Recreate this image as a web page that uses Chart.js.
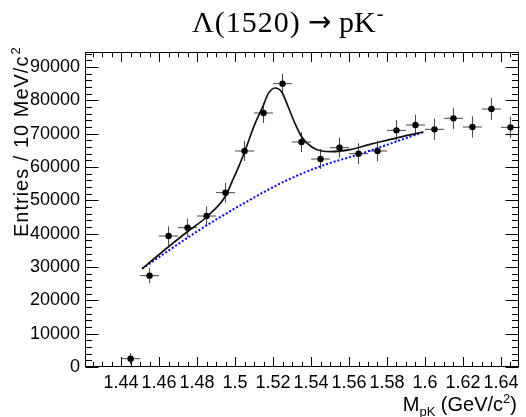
<!DOCTYPE html>
<html><head><meta charset="utf-8">
<script src="https://cdn.jsdelivr.net/npm/chart.js@4.4.1/dist/chart.umd.min.js"></script>
<style>html,body{margin:0;padding:0;background:#fff;}canvas{display:block;}</style>
</head><body>
<canvas id="c" width="526" height="417"></canvas>
<script>
// ---- data ----
const massBins = [1.445, 1.455, 1.465, 1.475, 1.485, 1.495, 1.505, 1.515, 1.525, 1.535, 1.545,
                  1.555, 1.565, 1.575, 1.585, 1.595, 1.605, 1.615, 1.625, 1.635, 1.645];
const entries = [2500, 27400, 39300, 41800, 45300, 52300, 64800, 76200, 85000, 67500, 62400,
                 65800, 64000, 64800, 71000, 72600, 71300, 74600, 72000, 77400, 71900];
const entryErrors = [1700, 2300, 2900, 2700, 2900, 3000, 3000, 3000, 3000, 3000, 3000,
                     3000, 3100, 3100, 3100, 3100, 3200, 3200, 3200, 3300, 3200];
const binHalfWidth = 0.005;

const fitMass = [1.4511, 1.4648, 1.4754, 1.4850, 1.4950, 1.4991, 1.5026, 1.5052, 1.5105, 1.5149,
                 1.5175, 1.5210, 1.5246, 1.5280, 1.5316, 1.5351, 1.5404, 1.5456, 1.5509, 1.5605,
                 1.5711, 1.5799, 1.5886, 1.5992];
const fitValues = [29500, 36000, 40800, 45000, 51300, 56500, 61000, 64800, 73000, 78500,
                   82000, 83700, 82500, 78000, 73000, 69000, 66000, 64800, 64600, 65200,
                   66800, 68000, 69200, 70500];

const bkgMass = [1.4511, 1.4815, 1.5043, 1.5272, 1.5474, 1.5653, 1.5992];
const bkgValues = [29500, 41200, 49000, 56000, 60700, 63800, 70500];

const xTickValues = [1.44, 1.46, 1.48, 1.50, 1.52, 1.54, 1.56, 1.58, 1.60, 1.62, 1.64];
const yTickValues = [0, 10000, 20000, 30000, 40000, 50000, 60000, 70000, 80000, 90000];

const SANS = '"Liberation Sans", Arial, Helvetica, sans-serif';
const SERIF = '"Liberation Serif", "Times New Roman", serif';

const rootPlugin = {
  id: 'rootStyle',
  beforeDatasetsDraw(chart) {
    const {ctx, scales: {x, y}} = chart;
    ctx.save();
    ctx.strokeStyle = '#444';
    ctx.lineWidth = 1;
    massBins.forEach((m, i) => {
      const px = x.getPixelForValue(m);
      const py = y.getPixelForValue(entries[i]);
      ctx.beginPath();
      ctx.moveTo(x.getPixelForValue(m - binHalfWidth), py);
      ctx.lineTo(x.getPixelForValue(m + binHalfWidth), py);
      ctx.moveTo(px, y.getPixelForValue(entries[i] - entryErrors[i]));
      ctx.lineTo(px, y.getPixelForValue(entries[i] + entryErrors[i]));
      ctx.stroke();
    });
    ctx.restore();
  },
  afterDraw(chart) {
    const {ctx, chartArea: a, scales: {x, y}} = chart;
    ctx.save();
    // frame
    ctx.strokeStyle = '#000';
    ctx.lineWidth = 1;
    const L = Math.round(a.left) + 0.5, R = Math.round(a.right) - 0.5;
    const T = Math.round(a.top) + 0.5, B = Math.round(a.bottom) - 0.5;
    ctx.strokeRect(L, T, R - L, B - T);
    // ticks (inside, on all four sides)
    ctx.beginPath();
    const xStep = 0.005;
    for (let k = Math.ceil(x.min / xStep - 1e-6); k <= Math.floor(x.max / xStep + 1e-6); k++) {
      const px = Math.round(x.getPixelForValue(k * xStep)) + 0.5;
      const len = (k % 4 === 0) ? 9.5 : 4.75;
      ctx.moveTo(px, B); ctx.lineTo(px, B - len);
      ctx.moveTo(px, T); ctx.lineTo(px, T + len);
    }
    const yStep = 2000;
    for (let k = 0; k <= Math.floor(y.max / yStep); k++) {
      const py = Math.round(y.getPixelForValue(k * yStep)) + 0.5;
      const len = (k % 5 === 0) ? 13 : 6.5;
      ctx.moveTo(L, py); ctx.lineTo(L + len, py);
      ctx.moveTo(R, py); ctx.lineTo(R - len, py);
    }
    ctx.stroke();

    ctx.fillStyle = '#000';
    ctx.textBaseline = 'alphabetic';
    ctx.textAlign = 'left';
    const hasLS = ('letterSpacing' in ctx);
    // main title: Λ(1520) → pK⁻
    ctx.font = '30px ' + SERIF;
    if (hasLS) ctx.letterSpacing = '1px';
    ctx.fillText('Λ(1520)', 192, 32);
    if (hasLS) ctx.letterSpacing = '0px';
    ctx.font = '28px "DejaVu Sans", sans-serif';
    ctx.fillText('→', 308, 31);
    ctx.font = '30px ' + SERIF;
    ctx.fillText('pK', 339, 32);
    const wpk = ctx.measureText('pK').width;
    ctx.font = '20px ' + SERIF;
    ctx.fillText('-', 339 + wpk + 1, 20);

    // x-axis title: M_pK (GeV/c^2)
    const big = '20px ' + SANS, small = '13px ' + SANS;
    const parts = [
      {t: 'M', f: big, dy: 0},
      {t: 'pK', f: small, dy: 5},
      {t: ' (GeV/c', f: big, dy: 0},
      {t: '2', f: small, dy: -8},
      {t: ')', f: big, dy: 0}
    ];
    let total = 0;
    parts.forEach(p => { ctx.font = p.f; p.w = ctx.measureText(p.t).width; total += p.w; });
    let cx = 517 - total;
    parts.forEach(p => { ctx.font = p.f; ctx.fillText(p.t, cx, 411 + p.dy); cx += p.w; });

    // y-axis title: Entries / 10 MeV/c^2
    ctx.translate(28, 237);
    ctx.rotate(-Math.PI / 2);
    ctx.font = '20px ' + SANS;
    if (hasLS) ctx.letterSpacing = '1px';
    const yT = 'Entries / 10 MeV/c';
    ctx.fillText(yT, 0, 0);
    const wy = ctx.measureText(yT).width;
    ctx.font = '13px ' + SANS;
    ctx.fillText('2', wy + 1, -8);
    ctx.restore();
  }
};

new Chart(document.getElementById('c'), {
  type: 'scatter',
  data: {
    datasets: [
      {
        label: 'Data',
        data: massBins.map((m, i) => ({x: m, y: entries[i]})),
        showLine: false,
        pointRadius: 3.2,
        pointBackgroundColor: '#000',
        pointBorderColor: '#000',
        pointBorderWidth: 0,
        order: 1
      },
      {
        label: 'Fit',
        data: fitMass.map((m, i) => ({x: m, y: fitValues[i]})),
        showLine: true,
        borderColor: '#111',
        borderWidth: 1.7,
        pointRadius: 0,
        cubicInterpolationMode: 'monotone',
        order: 2
      },
      {
        label: 'Background',
        data: bkgMass.map((m, i) => ({x: m, y: bkgValues[i]})),
        showLine: true,
        borderColor: '#0000ff',
        borderWidth: 2,
        borderDash: [2, 2],
        pointRadius: 0,
        cubicInterpolationMode: 'monotone',
        order: 3
      }
    ]
  },
  options: {
    responsive: false,
    animation: false,
    devicePixelRatio: 1,
    layout: {padding: {top: 52, right: 7, left: 0, bottom: 0}},
    plugins: {legend: {display: false}, tooltip: {enabled: false}, title: {display: false}},
    scales: {
      x: {
        type: 'linear', min: 1.421, max: 1.6495,
        grid: {display: false, drawTicks: false},
        border: {display: false},
        afterBuildTicks: s => { s.ticks = xTickValues.map(v => ({value: v})); },
        afterFit: s => { s.height = 50; },
        ticks: {
          font: {family: SANS, size: 18}, color: '#000', padding: 5,
          maxRotation: 0, autoSkip: false,
          callback: v => String(+Number(v).toFixed(2))
        }
      },
      y: {
        type: 'linear', min: 0, max: 94500,
        grid: {display: false, drawTicks: false},
        border: {display: false},
        afterBuildTicks: s => { s.ticks = yTickValues.map(v => ({value: v})); },
        afterFit: s => { s.width = 85; },
        ticks: {
          font: {family: SANS, size: 18}, color: '#000', padding: 5,
          autoSkip: false,
          callback: v => String(v)
        }
      }
    }
  },
  plugins: [rootPlugin]
});
</script>
</body></html>
